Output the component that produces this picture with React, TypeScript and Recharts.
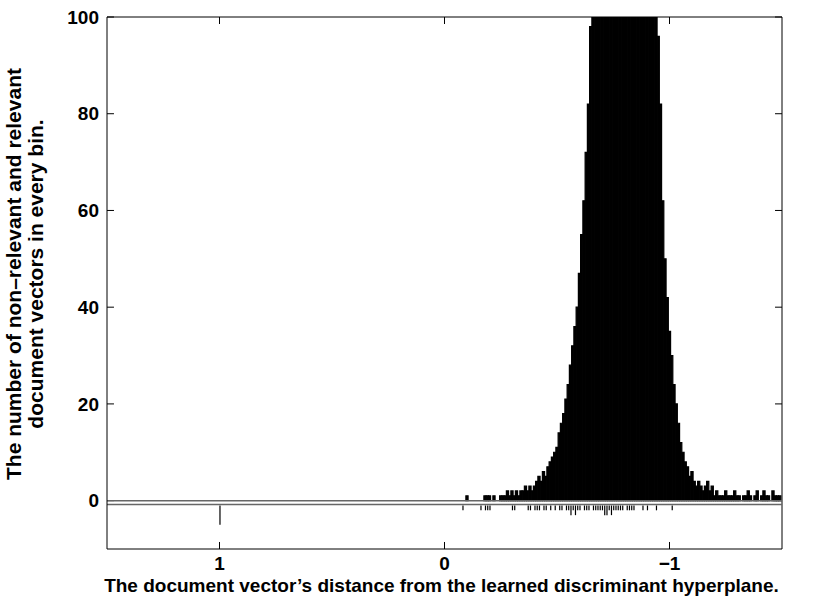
import React from 'react';
import { BarChart, Bar, XAxis, YAxis, ReferenceLine } from 'recharts';

// histogram bins, 0.01 wide, centred from -0.08 going right (towards -1.5)
const BIN_START = -0.08;
const BIN_STEP = -0.01;

// non-relevant documents per bin (the peak is clipped at 100)
const NON_RELEVANT = [
  0, 0,
  1, 0, 0, 0, 0, 0, 0, 0, 1, 1,
  1, 0, 1, 0, 0, 1, 1, 1, 2, 1,
  2, 1, 2, 1, 2, 2, 3, 2, 3, 2,
  3, 4, 5, 4, 6, 5, 7, 8, 9, 10,
  11, 14, 16, 18, 21, 24, 28, 32, 36, 40,
  47, 55, 62, 72, 82, 98, 112, 125, 138, 150,
  160, 171, 180, 188, 195, 201, 205, 208, 210, 209,
  207, 203, 197, 190, 181, 172, 162, 152, 142, 133,
  125, 118, 112, 107, 103, 96, 82, 62, 50, 42,
  35, 30, 24, 20, 16, 12, 10, 8, 7, 5,
  6, 4, 3, 4, 3, 2, 3, 4, 2, 3,
  1, 2, 1, 1, 1, 2, 1, 1, 1, 2,
  1, 1, 0, 1, 1, 2, 1, 0, 1, 2,
  0, 1, 2, 1, 1, 0, 2, 1, 1, 1, 0,
];

// relevant documents per bin (drawn downwards)
const RELEVANT = [
  1, 0,
  0, 0, 0, 0, 0, 0, 1, 0, 1, 1,
  1, 0, 0, 0, 0, 0, 0, 0, 0, 0,
  1, 1, 0, 0, 0, 0, 0, 1, 1, 0,
  1, 1, 1, 0, 1, 1, 0, 1, 0, 1,
  0, 1, 1, 0, 1, 1, 2, 1, 2, 1,
  1, 0, 1, 1, 1, 0, 1, 1, 1, 1,
  1, 2, 2, 1, 2, 1, 1, 1, 1, 1,
  0, 1, 1, 1, 1, 0, 0, 0, 1, 0,
  1, 0, 0, 0, 1, 0, 0, 0, 0, 0,
  0, 1, 0, 0, 0, 0, 0, 0, 0, 0,
  0, 0, 0, 0, 0, 0, 0, 0, 0, 0,
  0, 0, 0, 0, 0, 0, 0, 0, 0, 0,
  0, 0, 0, 0, 0, 0, 0, 0, 0, 0,
  0, 0, 0, 0, 0, 0, 0, 0, 0, 0, 0,
];

// one relevant document far out on the other side
const OUTLIER_X = [1];
const OUTLIER_RELEVANT = [4];

const X_TICKS = [1, 0, -1];
const Y_TICKS = [0, 20, 40, 60, 80, 100];
const X_MIN = -1.5;
const X_MAX = 1.5;
const Y_MIN = -10;
const Y_MAX = 100;

const X_TITLE = 'The document vector\u2019s distance from the learned discriminant hyperplane.';
const Y_TITLE = ['The number of non\u2013relevant and relevant', 'document vectors in every bin.'];

const FONT = '"Liberation Sans", Arial, Helvetica, sans-serif';
const REL_GAP = 1; // relevant bars hang below a small gap under zero
const TICK_X = 0.031; // inward tick length (~7px) in data units
const TICK_Y = 1.45;

const data = NON_RELEVANT.map((n, i) => ({
  x: +(BIN_START + i * BIN_STEP).toFixed(2),
  nonrel: n,
  rel: RELEVANT[i],
}));
OUTLIER_X.forEach((x, i) => data.push({ x, nonrel: 0, rel: OUTLIER_RELEVANT[i] }));

const fmtX = (v: number) => (v < 0 ? `\u2212${-v}` : `${v}`);

const tickFont = { fill: '#000', fontSize: 19, fontWeight: 'bold', fontFamily: FONT };

const XTitle = (props: any) => {
  const vb = props.viewBox;
  return (
    <text
      x={vb.x + vb.width / 2 - 3}
      y={vb.y + 43}
      textAnchor="middle"
      style={{ fontSize: 19, fontWeight: 'bold', fontFamily: FONT, fill: '#000' }}
    >
      {X_TITLE}
    </text>
  );
};

const YTitle = (props: any) => {
  const vb = props.viewBox;
  const cy = vb.y + vb.height / 2 - 9;
  return (
    <g style={{ fontSize: 21, fontWeight: 'bold', fontFamily: FONT, fill: '#000' }}>
      {Y_TITLE.map((line, i) => {
        const x = vb.x + 21 + i * 22;
        return (
          <text key={i} x={x} y={cy} textAnchor="middle" transform={`rotate(-90 ${x} ${cy})`}>
            {line}
          </text>
        );
      })}
    </g>
  );
};

// MATLAB style inward ticks on all four sides of the box
const tickSegments = [
  ...X_TICKS.flatMap((t) => [
    [{ x: t, y: Y_MAX }, { x: t, y: Y_MAX - TICK_Y }],
    [{ x: t, y: Y_MIN }, { x: t, y: Y_MIN + TICK_Y }],
  ]),
  ...Y_TICKS.flatMap((t) => [
    [{ x: X_MAX, y: t }, { x: X_MAX - TICK_X, y: t }],
    [{ x: X_MIN, y: t }, { x: X_MIN + TICK_X, y: t }],
  ]),
];

export default function App() {
  return (
    <div style={{ position: 'absolute', left: 0, top: 0, width: 817, height: 607 }}>
      <BarChart
        width={817}
        height={607}
        data={data}
        margin={{ top: 17, right: 35, bottom: 0, left: 0 }}
        barGap={0}
        barCategoryGap={0}
      >
        <XAxis
          xAxisId="x"
          dataKey="x"
          type="number"
          domain={[X_MIN, X_MAX]}
          reversed
          allowDataOverflow
          ticks={X_TICKS}
          interval={0}
          tickFormatter={fmtX}
          tick={tickFont}
          tickLine={false}
          tickSize={0}
          tickMargin={8}
          height={58}
          axisLine={{ stroke: '#000' }}
          label={{ content: XTitle }}
        />
        <XAxis xAxisId="xr" dataKey="x" type="number" domain={[X_MIN, X_MAX]} reversed allowDataOverflow hide />
        <YAxis
          yAxisId="y"
          type="number"
          domain={[Y_MIN, Y_MAX]}
          allowDataOverflow
          ticks={Y_TICKS}
          interval={0}
          tick={tickFont}
          tickLine={false}
          tickSize={0}
          tickMargin={8}
          width={107}
          axisLine={{ stroke: '#000' }}
          label={{ content: YTitle }}
        />
        <ReferenceLine xAxisId="x" yAxisId="y" y={Y_MAX} stroke="#000" />
        <ReferenceLine xAxisId="x" yAxisId="y" x={X_MIN} stroke="#000" />
        {tickSegments.map((seg, i) => (
          <ReferenceLine key={i} xAxisId="x" yAxisId="y" segment={seg} stroke="#000" />
        ))}
        <ReferenceLine xAxisId="x" yAxisId="y" y={0} stroke="#666" strokeWidth={1.5} />
        <ReferenceLine xAxisId="x" yAxisId="y" y={-0.8} stroke="#666" strokeWidth={1.5} />
        <Bar
          xAxisId="x"
          yAxisId="y"
          dataKey="nonrel"
          fill="#000"
          stroke="#000"
          strokeWidth={1.2}
          barSize={2.2}
          isAnimationActive={false}
        />
        <Bar
          xAxisId="xr"
          yAxisId="y"
          dataKey={(d: any) => [-REL_GAP, -REL_GAP - d.rel]}
          fill="#000"
          barSize={1.2}
          isAnimationActive={false}
        />
      </BarChart>
    </div>
  );
}
